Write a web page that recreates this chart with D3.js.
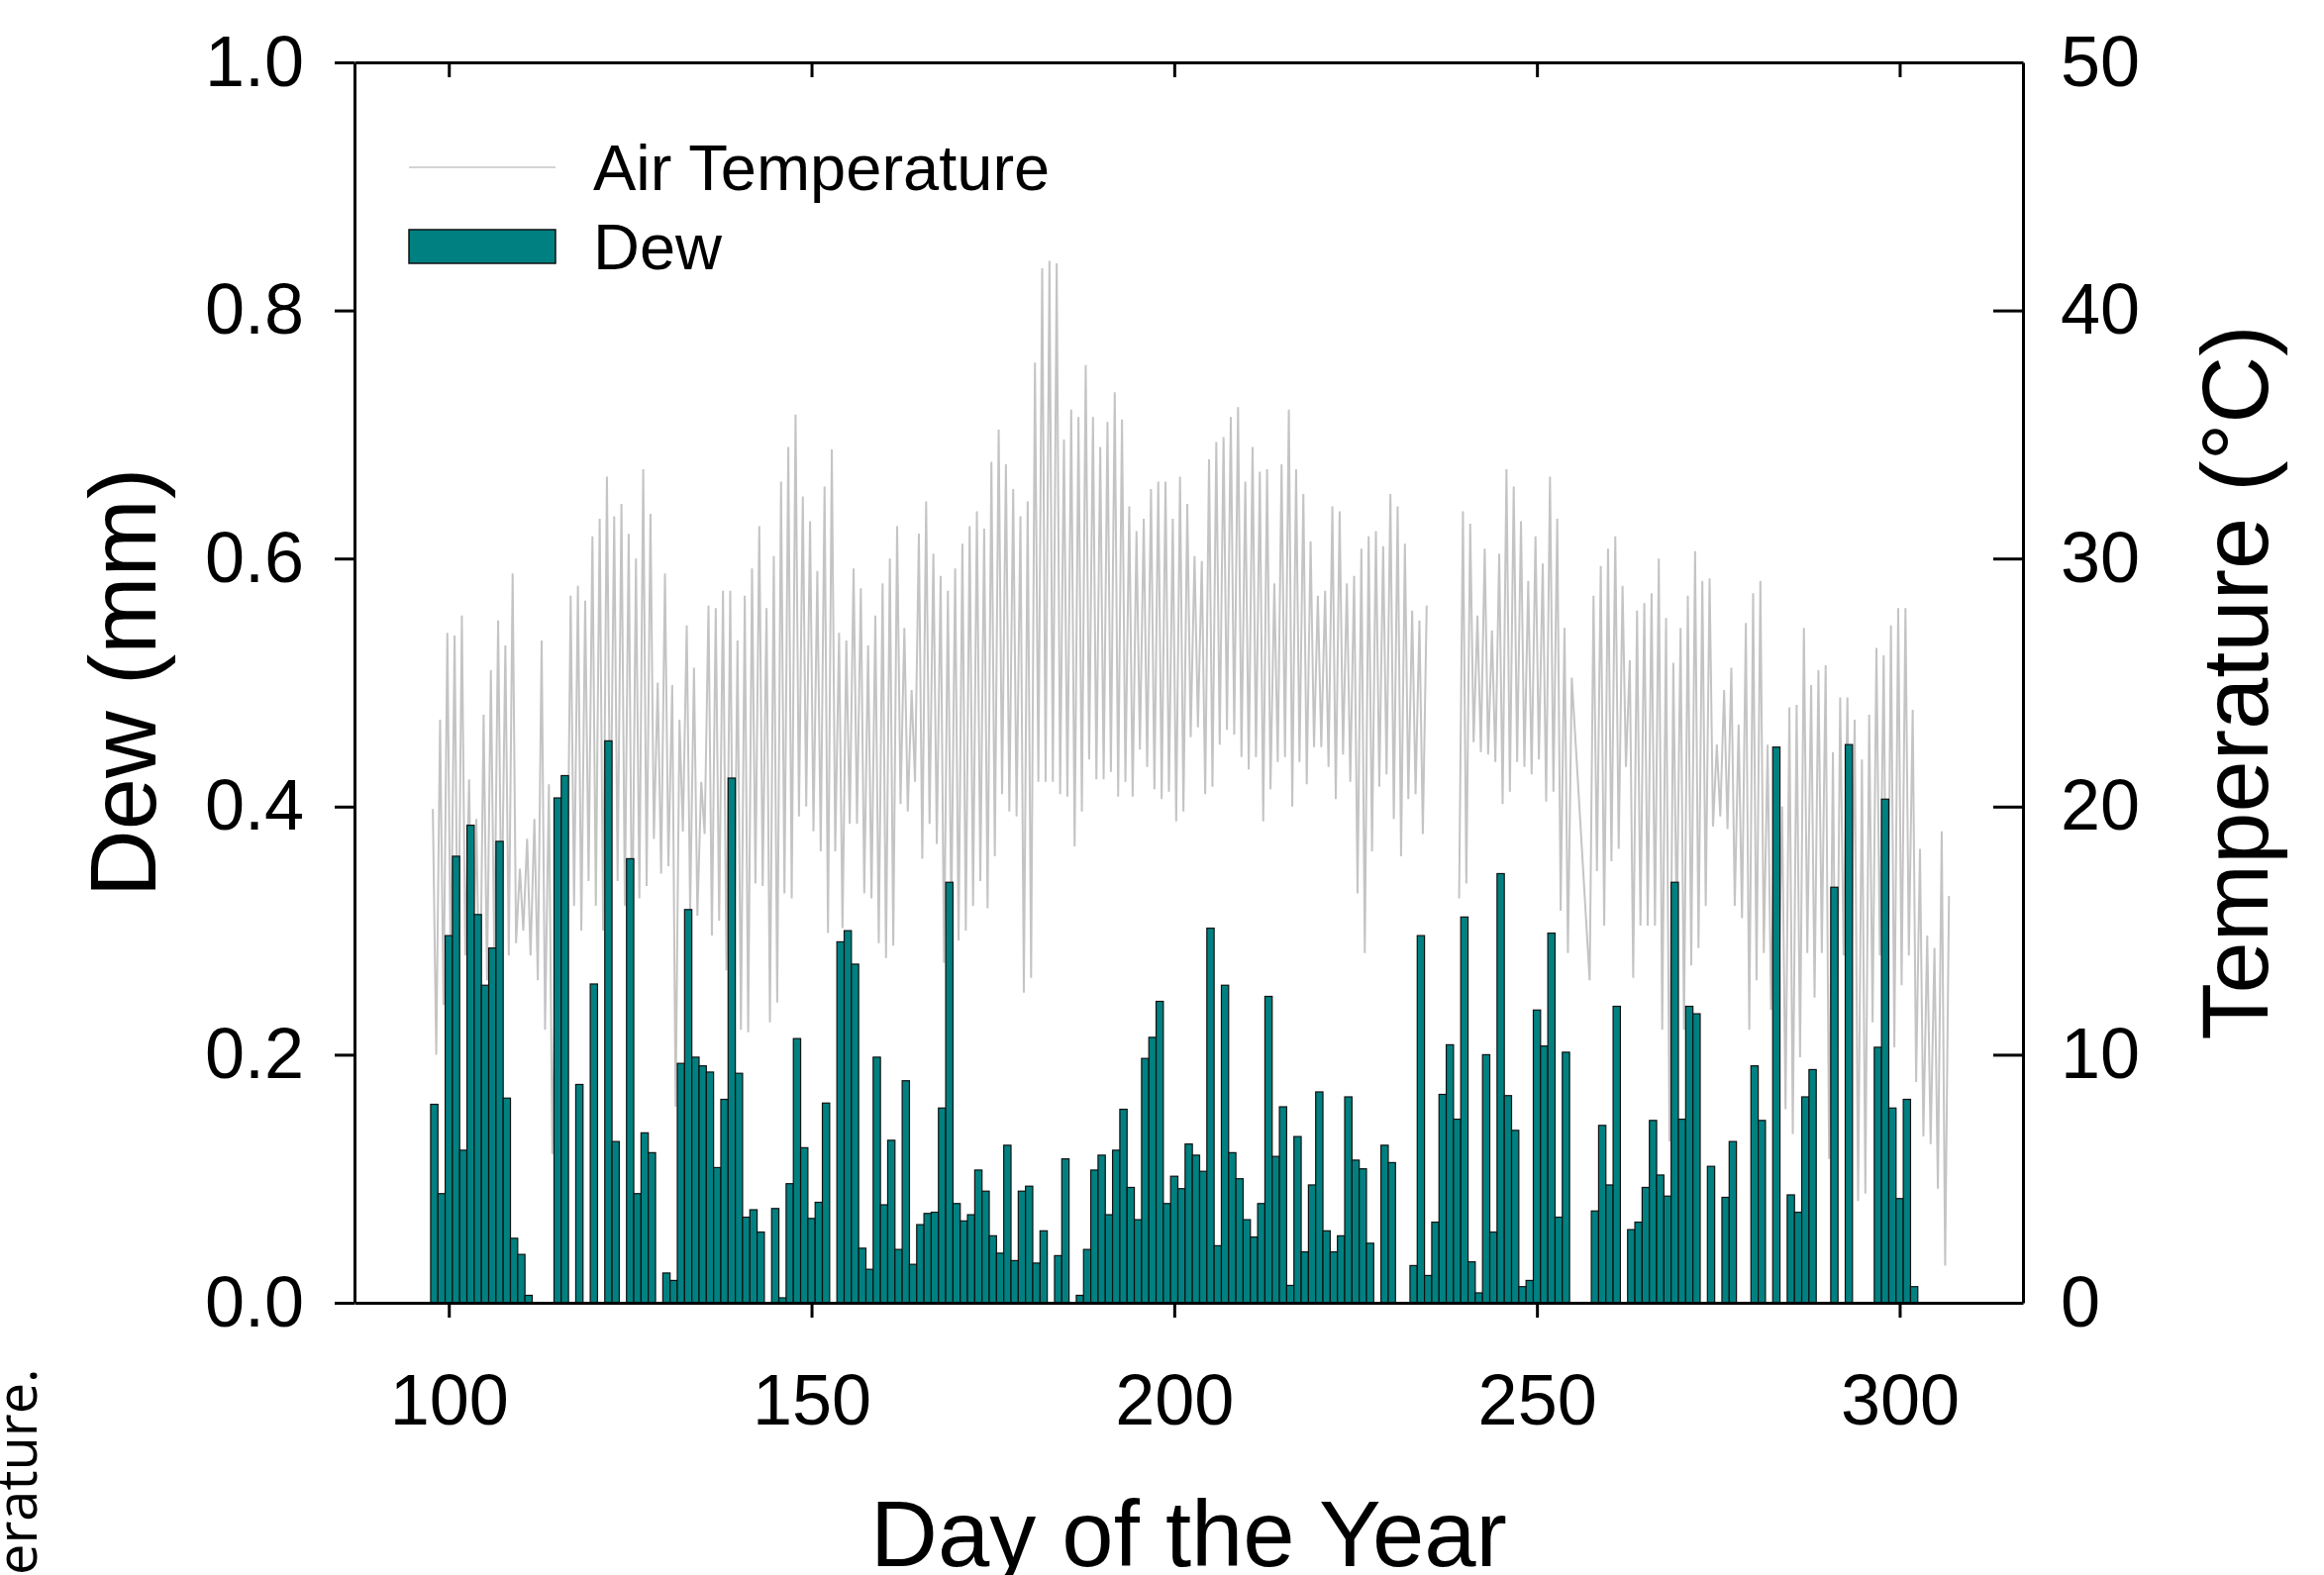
<!DOCTYPE html>
<html>
<head>
<meta charset="utf-8">
<script src="https://cdn.jsdelivr.net/npm/d3@7"></script>
<style>
  body { margin: 0; background: #fff; }
  svg { display: block; font-family: "Liberation Sans", Arial, sans-serif; }
</style>
</head>
<body>
<div class="container"></div>
<script>
const w = 2347;
const h = 1591;
const pad = {top: 63, right: 304, bottom: 275, left: 358};

// daily dew (mm), one value per day starting at day 98
const dewStart = 98;
const dew = [
  0.160, 0.088, 0.296, 0.360, 0.123, 0.385, 0.313, 0.256, 0.286, 0.372, // 98-107
  0.165, 0.052, 0.039, 0.006, 0, 0, 0, 0.407, 0.425, 0,                 // 108-117
  0.176, 0, 0.257, 0, 0.453, 0.130, 0, 0.358, 0.088, 0.137,             // 118-127
  0.121, 0, 0.024, 0.018, 0.193, 0.317, 0.198, 0.191, 0.186, 0.109,     // 128-137
  0.164, 0.423, 0.185, 0.069, 0.075, 0.057, 0, 0.076, 0.004, 0.096,     // 138-147
  0.213, 0.125, 0.068, 0.081, 0.161, 0, 0.291, 0.300, 0.273, 0.044,     // 148-157
  0.027, 0.198, 0.079, 0.131, 0.043, 0.179, 0.031, 0.063, 0.072, 0.073, // 158-167
  0.157, 0.339, 0.080, 0.066, 0.071, 0.107, 0.090, 0.054, 0.040, 0.127, // 168-177
  0.034, 0.090, 0.094, 0.032, 0.058, 0, 0.038, 0.116, 0, 0.006,         // 178-187
  0.043, 0.107, 0.119, 0.071, 0.123, 0.156, 0.093, 0.067, 0.197, 0.214, // 188-197
  0.243, 0.080, 0.102, 0.092, 0.128, 0.119, 0.106, 0.302, 0.046, 0.256, // 198-207
  0.121, 0.100, 0.067, 0.053, 0.080, 0.247, 0.118, 0.158, 0.014, 0.134, // 208-217
  0.041, 0.095, 0.170, 0.058, 0.041, 0.054, 0.166, 0.115, 0.108, 0.048, // 218-227
  0, 0.127, 0.113, 0, 0, 0.030, 0.296, 0.022, 0.065, 0.168,             // 228-237
  0.208, 0.148, 0.311, 0.033, 0.008, 0.200, 0.057, 0.346, 0.167, 0.139, // 238-247
  0.013, 0.018, 0.236, 0.207, 0.298, 0.069, 0.202, 0, 0, 0,             // 248-257
  0.074, 0.143, 0.095, 0.239, 0, 0.059, 0.065, 0.093, 0.147, 0.103,     // 258-267
  0.086, 0.339, 0.148, 0.239, 0.233, 0, 0.110, 0, 0.085, 0.130,         // 268-277
  0, 0, 0.191, 0.147, 0, 0.448, 0, 0.087, 0.073, 0.166,                 // 278-287
  0.188, 0, 0, 0.335, 0, 0.450, 0, 0, 0, 0.206,                         // 288-297
  0.406, 0.157, 0.084, 0.164, 0.013                                     // 298-302
];

// air temperature (°C): daily max and min, starting at day 97
const tempStart = 97;
const tMax = [
  19.9, 23.5, 27.0, 26.9, 27.7, 21.1, 19.5, 23.7, 25.5, 27.5, // 97-106
  26.5, 29.4, 17.5, 18.7, 19.5, 26.7, 20.9, 15.0, 19.0, 28.5, // 107-116
  28.9, 28.3, 30.9, 31.6, 33.3, 31.7, 32.2, 31.0, 30.0, 33.6, // 117-126
  31.8, 25.0, 29.4, 24.9, 23.5, 27.3, 25.6, 21.0, 28.1, 28.0, // 127-136
  28.7, 28.7, 26.7, 28.5, 29.6, 31.3, 28.0, 30.1, 33.1, 34.5, // 137-146
  35.8, 32.5, 31.5, 29.5, 32.9, 34.4, 27.0, 26.7, 29.6, 28.8, // 147-156
  26.5, 27.7, 29.0, 30.0, 31.3, 27.2, 24.7, 31.0, 32.3, 30.2, // 157-166
  29.3, 28.7, 29.6, 30.6, 31.3, 31.9, 31.2, 33.9, 35.2, 33.8, // 167-176
  32.8, 31.7, 32.3, 37.9, 41.7, 42.0, 41.9, 34.8, 36.0, 35.7, // 177-186
  37.8, 35.7, 34.5, 35.5, 36.7, 35.6, 32.1, 31.1, 31.6, 32.8, // 187-196
  33.1, 33.1, 31.6, 33.3, 32.2, 30.1, 29.9, 34.0, 34.7, 34.9, // 197-206
  35.7, 36.1, 33.1, 34.5, 33.5, 33.6, 29.0, 33.8, 36.0, 33.6, // 207-216
  32.6, 30.7, 28.5, 28.7, 32.1, 31.9, 29.0, 29.3, 30.4, 30.9, // 217-226
  31.1, 30.5, 32.6, 32.1, 30.6, 27.9, 27.5, 28.1, null, null, // 227-236
  null, null, 31.9, 31.4, 27.7, 30.4, 27.1, 30.2, 33.6, 32.9, // 237-246
  31.5, 29.1, 30.9, 29.8, 33.3, 31.6, 27.2, 25.2, null, null, // 247-256
  28.5, 29.7, 30.4, 30.9, 28.9, 25.9, 27.9, 28.2, 28.6, 30.0, // 257-266
  27.6, 25.8, 27.2, 28.5, 30.3, 29.1, 29.2, 22.5, 24.7, 25.6, // 267-276
  23.3, 27.4, 28.6, 29.1, 22.5, 21.0, 20.0, 24.0, 24.1, 27.2, // 277-286
  24.9, 25.5, 25.7, 22.2, 24.4, 24.4, 23.5, 21.9, 23.7, 26.4, // 287-296
  26.1, 27.3, 28.0, 28.0, 23.9, 18.3, 14.8, 14.3, 19.0, 16.4  // 297-306
];
const tMin = [
  null, 10.0, 12.0, 13.0, 12.0, 14.0, 12.0, 11.0, 13.0, 14.0, // 97-106
  15.0, 14.0, 14.5, 15.0, 14.0, 13.0, 11.0, 6.0, 9.0, 14.0,   // 107-116
  16.0, 15.0, 17.0, 16.0, 15.0, 18.0, 17.0, 16.0, 14.0, 16.3, // 117-126
  16.8, 18.7, 17.3, 17.6, 7.9, 19.0, 15.8, 15.6, 18.9, 14.8,  // 127-136
  15.4, 13.4, 12.0, 11.0, 10.9, 16.9, 16.8, 11.3, 12.1, 16.5, // 137-146
  16.3, 19.6, 20.0, 19.0, 18.2, 14.9, 18.2, 15.1, 19.3, 19.3, // 147-156
  16.5, 16.3, 14.5, 13.9, 14.4, 20.1, 19.8, 21.0, 17.9, 19.3, // 157-166
  18.5, 13.7, 15.5, 14.6, 15.0, 16.0, 17.0, 15.9, 18.0, 20.5, // 167-176
  19.8, 19.6, 12.5, 13.1, 21.0, 21.0, 21.0, 20.5, 20.4, 18.4, // 177-186
  19.8, 21.9, 21.1, 21.1, 21.4, 20.4, 21.0, 20.4, 22.3, 21.6, // 187-196
  20.7, 20.3, 20.6, 19.4, 19.8, 22.8, 23.2, 20.5, 20.8, 22.5, // 197-206
  23.1, 22.9, 22.0, 21.5, 22.0, 19.4, 20.7, 21.8, 22.0, 20.0, // 207-216
  21.8, 20.9, 22.4, 22.4, 21.6, 20.3, 22.1, 21.0, 16.5, 14.1, // 217-226
  18.2, 20.8, 21.3, 19.5, 18.0, 20.3, 20.5, 18.9, null, null, // 227-236
  null, null, 16.3, 16.9, 22.6, 22.2, 22.1, 21.8, 20.1, 20.6, // 237-246
  21.8, 21.6, 21.3, 21.9, 20.2, 20.6, 15.8, 14.1, null, null, // 247-256
  13.0, 17.4, 15.2, 17.8, 18.3, 21.6, 13.1, 15.2, 15.2, 15.2, // 257-266
  11.0, 6.5, 15.0, 11.0, 13.6, 14.3, 16.0, 19.2, 19.6, 19.1,  // 267-276
  16.0, 15.5, 11.0, 13.0, 14.1, 11.8, 12.0, 7.8, 6.8, 9.9,    // 277-286
  14.1, 12.3, 14.1, 5.8, 7.4, 14.0, 11.8, 4.1, 4.4, 11.3,     // 287-296
  14.0, 9.2, 10.3, 12.8, 14.0, 8.9, 6.7, 6.4, 4.6, 1.5        // 297-306
];
// logger gap: the line is broken after this day
const tempBreakAfter = [234];

const xTicks = [100, 150, 200, 250, 300];
const dewTicks = [0, 0.2, 0.4, 0.6, 0.8, 1.0];
const tempTicks = [0, 10, 20, 30, 40, 50];

// create svg area
const svg = d3.select('.container')
              .append('svg')
              .attr('width', w)
              .attr('height', h);

const xScale = d3.scaleLinear()
                 .domain([87, 317])
                 .range([pad.left, w - pad.right]);
const yDew = d3.scaleLinear()
               .domain([0, 1])
               .range([h - pad.bottom, pad.top]);
const yTemp = d3.scaleLinear()
                .domain([0, 50])
                .range([h - pad.bottom, pad.top]);

// temperature line: min in the early morning, max in the afternoon
const tempPts = [];
tMax.forEach((mx, i) => {
  const day = tempStart + i;
  if (tMin[i] != null) tempPts.push({x: day + 0.27, t: tMin[i]});
  if (mx != null) tempPts.push({x: day + 0.8, t: mx});
  if (tempBreakAfter.includes(day)) tempPts.push(null);
});

const line = d3.line()
               .defined((d) => d !== null)
               .x((d) => xScale(d.x))
               .y((d) => yTemp(d.t));

svg.append('path')
   .datum(tempPts)
   .attr('d', line)
   .style('fill', 'none')
   .style('stroke', '#c4c4c4')
   .style('stroke-width', 2);

// dew bars
const dewData = dew.map((v, i) => ({day: dewStart + i, v: v}))
                   .filter((d) => d.v > 0);
svg.selectAll('rect.dew')
   .data(dewData)
   .enter()
   .append('rect')
   .attr('class', 'dew')
   .attr('x', (d) => xScale(d.day - 0.5))
   .attr('width', (d) => xScale(d.day + 0.5) - xScale(d.day - 0.5))
   .attr('y', (d) => yDew(d.v))
   .attr('height', (d) => yDew(0) - yDew(d.v))
   .style('fill', '#008080')
   .style('stroke', '#111')
   .style('stroke-width', 1.2);

// axes
const tickFont = 72;
const styleAxis = (g) => {
  g.selectAll('.domain').style('stroke', '#000').style('stroke-width', 3);
  g.selectAll('.tick line').style('stroke', '#000').style('stroke-width', 3);
  g.selectAll('.tick text')
   .style('font-size', tickFont + 'px')
   .style('font-family', '"Liberation Sans", Arial, sans-serif')
   .style('fill', '#000');
};

svg.append('g')
   .attr('transform', `translate(0, ${h - pad.bottom})`)
   .call(d3.axisBottom(xScale).tickValues(xTicks).tickSizeInner(15).tickSizeOuter(0).tickPadding(57))
   .call(styleAxis);
svg.append('g')
   .attr('transform', `translate(0, ${pad.top})`)
   .call(d3.axisTop(xScale).tickValues(xTicks).tickSizeInner(-15).tickSizeOuter(0).tickFormat(''))
   .call(styleAxis);
svg.append('g')
   .attr('transform', `translate(${pad.left}, 0)`)
   .call(d3.axisLeft(yDew).tickValues(dewTicks).tickSizeInner(20).tickSizeOuter(0).tickPadding(31)
           .tickFormat(d3.format('.1f')))
   .call(styleAxis);
svg.append('g')
   .attr('transform', `translate(${w - pad.right}, 0)`)
   .call(d3.axisRight(yTemp).tickValues(tempTicks).tickSizeInner(-30).tickSizeOuter(0).tickPadding(38))
   .call(styleAxis);

// axis titles
svg.append('text')
   .text('Day of the Year')
   .attr('x', (pad.left + w - pad.right) / 2)
   .attr('y', 1582)
   .attr('text-anchor', 'middle')
   .style('font-size', '94px');
svg.append('text')
   .text('Dew (mm)')
   .attr('text-anchor', 'middle')
   .attr('transform', `translate(157, ${(pad.top + h - pad.bottom) / 2}) rotate(-90)`)
   .style('font-size', '94px');
svg.append('text')
   .text('Temperature (°C)')
   .attr('text-anchor', 'middle')
   .attr('transform', `translate(2290, ${(pad.top + h - pad.bottom) / 2}) rotate(-90)`)
   .style('font-size', '94px');

// legend
const legend = svg.append('g');
legend.append('line')
      .attr('x1', 413).attr('x2', 561)
      .attr('y1', 169).attr('y2', 169)
      .style('stroke', '#d4d4d4')
      .style('stroke-width', 2);
legend.append('rect')
      .attr('x', 413).attr('y', 232)
      .attr('width', 148).attr('height', 34)
      .style('fill', '#008080')
      .style('stroke', '#111')
      .style('stroke-width', 1.5);
legend.append('text')
      .text('Air Temperature')
      .attr('x', 599).attr('y', 192)
      .style('font-size', '65px');
legend.append('text')
      .text('Dew')
      .attr('x', 599).attr('y', 272)
      .style('font-size', '65px');

// piece of the page caption at the left edge
svg.append('text')
   .text('erature.')
   .attr('transform', 'translate(37, 1591) rotate(-90)')
   .style('font-family', '"Open Sans", sans-serif')
   .style('font-size', '56px');
</script>
</body>
</html>
